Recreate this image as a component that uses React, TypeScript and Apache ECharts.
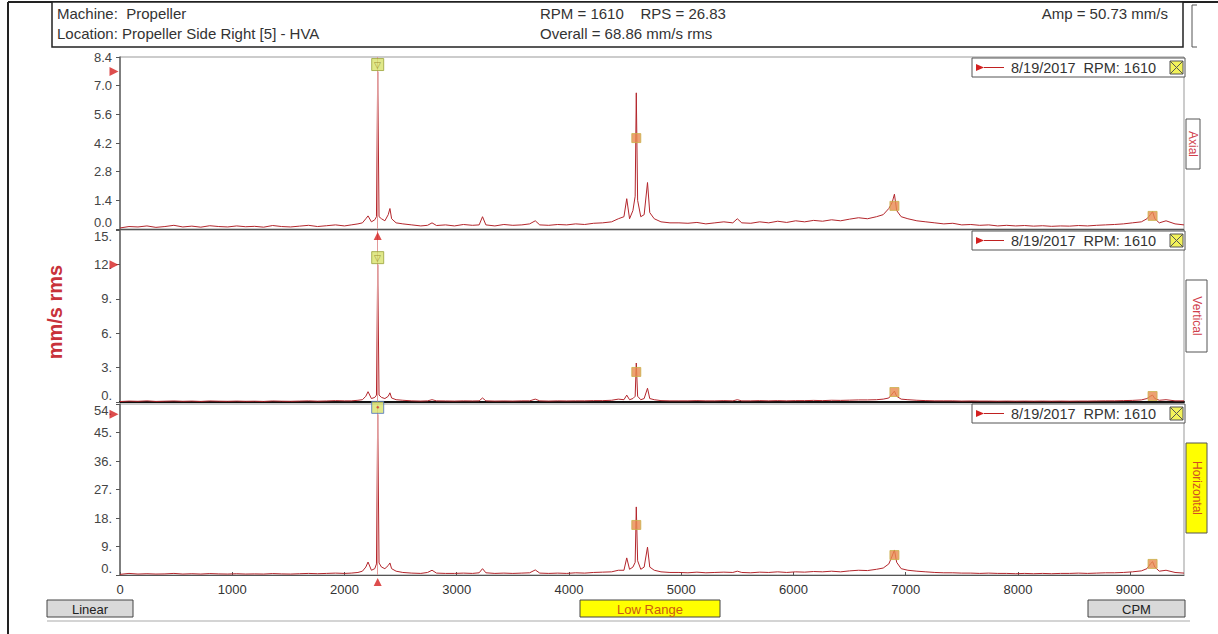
import React, { useEffect, useRef } from "react";
import * as echarts from "echarts";

// ---------- data ----------
const cpm = [
  0, 80, 160, 240, 320, 400, 480, 560, 640, 720, 800, 880, 960, 1040, 1120, 1200, 1280, 1360, 1440, 1520, 1600, 1680, 1760, 1840, 1920, 2000,
  2060, 2120, 2160, 2190, 2210, 2240, 2270, 2285, 2296, 2308, 2330, 2360, 2390, 2405, 2420, 2460, 2520,
  2600, 2680, 2740, 2780, 2820, 2900, 2980, 3060, 3140, 3200, 3230, 3260, 3340, 3420, 3500, 3580, 3650, 3700, 3740, 3820, 3900, 3980, 4060, 4140, 4220, 4300, 4380, 4440,
  4490, 4515, 4540, 4570, 4590, 4600, 4612, 4640, 4670, 4700, 4720, 4760, 4820, 4900,
  4980, 5060, 5140, 5220, 5300, 5380, 5460, 5500, 5540, 5620, 5700, 5780, 5860, 5940, 6020, 6100, 6180, 6260, 6340, 6420, 6500, 6580, 6660, 6740, 6800,
  6850, 6880, 6900, 6920, 6960, 7020,
  7100, 7180, 7260, 7340, 7420, 7500, 7580, 7660, 7740, 7820, 7900, 7980, 8060, 8140, 8220, 8300, 8380, 8460, 8540, 8620, 8700, 8780, 8860, 8940, 9020, 9100,
  9150, 9180, 9200, 9220, 9260, 9320, 9400, 9480,
];

const axial = [
  0.05, 0.12, 0.1, 0.15, 0.08, 0.12, 0.18, 0.1, 0.14, 0.09, 0.16, 0.12, 0.1, 0.15, 0.11, 0.13, 0.09, 0.17, 0.12, 0.1, 0.14, 0.18, 0.12, 0.16, 0.2, 0.15,
  0.2, 0.25, 0.3, 0.5, 0.64, 0.35, 0.45, 0.6, 7.69, 0.6, 0.5, 0.4, 0.7, 1.0, 0.5, 0.3, 0.25,
  0.2, 0.15, 0.18, 0.3, 0.17, 0.2, 0.15, 0.22, 0.18, 0.2, 0.6, 0.2, 0.15, 0.22, 0.18, 0.2, 0.25, 0.4, 0.2, 0.18, 0.22, 0.2, 0.25, 0.22, 0.28, 0.3, 0.35, 0.5,
  0.6, 1.48, 0.5, 0.9, 1.6, 6.65, 1.4, 0.6, 0.7, 2.27, 0.8, 0.5, 0.35, 0.3,
  0.3, 0.28, 0.32, 0.25, 0.3, 0.35, 0.3, 0.5, 0.3, 0.28, 0.35, 0.3, 0.38, 0.32, 0.4, 0.35, 0.42, 0.38, 0.45, 0.4, 0.48, 0.55, 0.5, 0.6, 0.7,
  1.0, 1.3, 1.7, 0.9, 0.6, 0.5,
  0.4, 0.35, 0.3, 0.25, 0.28, 0.2, 0.22, 0.18, 0.2, 0.15, 0.18, 0.15, 0.17, 0.14, 0.16, 0.13, 0.15, 0.14, 0.17, 0.15, 0.18, 0.2, 0.22, 0.25, 0.3, 0.35,
  0.5, 0.7, 0.85, 0.5, 0.3, 0.4, 0.25, 0.2,
];

const vertical = [
  0.04, 0.08, 0.06, 0.1, 0.05, 0.07, 0.09, 0.06, 0.08, 0.05, 0.09, 0.07, 0.06, 0.08, 0.06, 0.07, 0.05, 0.09, 0.07, 0.06, 0.08, 0.1, 0.07, 0.09, 0.12, 0.1,
  0.1, 0.15, 0.2, 0.5, 0.9, 0.3, 0.4, 0.6, 11.98, 0.6, 0.4, 0.3, 0.5, 0.8, 0.35, 0.2, 0.15,
  0.1, 0.08, 0.1, 0.2, 0.1, 0.09, 0.08, 0.1, 0.09, 0.1, 0.35, 0.1, 0.08, 0.09, 0.08, 0.1, 0.1, 0.25, 0.1, 0.08, 0.1, 0.09, 0.1, 0.1, 0.12, 0.12, 0.15, 0.25,
  0.2, 0.6, 0.2, 0.3, 0.5, 3.4, 0.5, 0.2, 0.3, 1.2, 0.3, 0.2, 0.12, 0.1,
  0.1, 0.1, 0.12, 0.1, 0.1, 0.12, 0.1, 0.2, 0.1, 0.1, 0.12, 0.1, 0.12, 0.1, 0.12, 0.12, 0.14, 0.12, 0.15, 0.14, 0.16, 0.18, 0.18, 0.2, 0.25,
  0.35, 0.7, 0.95, 0.5, 0.25, 0.2,
  0.15, 0.12, 0.1, 0.1, 0.1, 0.08, 0.09, 0.08, 0.08, 0.07, 0.08, 0.07, 0.08, 0.07, 0.08, 0.07, 0.08, 0.07, 0.08, 0.08, 0.09, 0.1, 0.1, 0.12, 0.14, 0.18,
  0.3, 0.5, 0.6, 0.3, 0.15, 0.2, 0.1, 0.1,
];

const horizontal = [
  0.2, 0.5, 0.3, 0.4, 0.3, 0.35, 0.5, 0.3, 0.4, 0.3, 0.45, 0.35, 0.3, 0.4, 0.3, 0.35, 0.3, 0.45, 0.35, 0.3, 0.4, 0.5, 0.4, 0.5, 0.6, 0.5,
  0.6, 0.8, 1.2, 2.5, 4.1, 1.5, 2.0, 3.5, 50.73, 3.8, 2.5, 2.0, 3.0, 3.8, 2.0, 1.2, 0.8,
  0.6, 0.5, 0.8, 1.5, 0.6, 0.5, 0.5, 0.6, 0.5, 0.7, 2.0, 0.7, 0.5, 0.6, 0.5, 0.6, 0.7, 1.6, 0.6, 0.5, 0.6, 0.5, 0.7, 0.6, 0.8, 0.9, 1.0, 1.5,
  1.5, 5.4, 1.8, 2.5, 4.0, 21.5, 4.5, 1.8, 2.5, 8.8, 2.5, 1.5, 1.0, 0.8,
  0.8, 0.7, 0.9, 0.7, 0.8, 0.9, 0.8, 1.2, 0.8, 0.7, 0.9, 0.8, 1.0, 0.8, 1.0, 0.9, 1.1, 1.0, 1.2, 1.0, 1.3, 1.5, 1.4, 1.8, 2.2,
  3.5, 6.0, 7.9, 4.0, 2.0, 1.5,
  1.2, 1.0, 0.8, 0.7, 0.7, 0.6, 0.6, 0.5, 0.6, 0.5, 0.5, 0.4, 0.5, 0.4, 0.5, 0.4, 0.5, 0.5, 0.6, 0.5, 0.6, 0.7, 0.7, 0.8, 1.0, 1.3,
  2.0, 3.5, 4.2, 2.5, 1.2, 1.5, 0.8, 0.6,
];

const harmonicCpm = [4600, 6900, 9200];
const axialMarks = [4.44, 1.13, 0.64];
const verticalMarks = [2.62, 0.87, 0.52];
const horizontalMarks = [15.8, 6.3, 3.5];

const cursorCpm = 2296;
const cursorAmps = [7.69, 11.98, 50.73];

const panelNames = ["Axial", "Vertical", "Horizontal"];
const yMax = [8.4, 15, 54];
const yInterval = [1.4, 3, 9];
const xMax = 9480;
const xInterval = 1000;

const legendText = "8/19/2017  RPM: 1610";
const headerLeft = ["Machine:  Propeller", "Location: Propeller Side Right [5] - HVA"];
const headerMid = ["RPM = 1610    RPS = 26.83", "Overall = 68.86 mm/s rms"];
const headerRight = "Amp = 50.73 mm/s";
const yTitle = "mm/s rms";
const buttons = ["Linear", "Low Range", "CPM"];

// ---------- layout ----------
const FONT = "'Liberation Sans', Arial, Helvetica, sans-serif";
const grids = [
  { left: 120, top: 57, width: 1064, height: 172 },
  { left: 120, top: 230, width: 1064, height: 172 },
  { left: 120, top: 404, width: 1064, height: 171 },
];
const legendTops = [58, 231, 404];
const sideBoxes = [
  { x: 1186, y: 119, w: 14, h: 50, fill: "#ffffff", color: "#d0404c" },
  { x: 1186, y: 280, w: 21, h: 72, fill: "#ffffff", color: "#d0404c" },
  { x: 1186, y: 443, w: 21, h: 90, fill: "#ffff00", color: "#d05020" },
];
const buttonBoxes = [
  { x: 47, y: 600, w: 86, h: 17, fill: "#d9d9d9", color: "#222" },
  { x: 580, y: 600, w: 140, h: 17, fill: "#ffff00", color: "#cc5a10" },
  { x: 1088, y: 600, w: 97, h: 17, fill: "#d9d9d9", color: "#222" },
];

function buildOption() {
  const traces = [axial, vertical, horizontal];
  const marks = [axialMarks, verticalMarks, horizontalMarks];

  const xAxis = grids.map((_, i) => ({
    type: "value",
    gridIndex: i,
    min: 0,
    max: xMax,
    interval: xInterval,
    axisLine: { show: true, onZero: false, lineStyle: { color: i === 1 ? "#111" : "#555", width: i === 1 ? 2 : 1 } },
    axisTick: { show: i === 2, inside: true, length: 3, lineStyle: { color: "#555" } },
    axisLabel: {
      show: i === 2,
      showMaxLabel: false,
      color: "#333",
      fontSize: 13,
      fontFamily: FONT,
      margin: 8,
      formatter: (v: number) => String(v),
    },
    splitLine: { show: false },
  }));

  const yAxis = grids.map((_, i) => ({
    type: "value",
    gridIndex: i,
    min: 0,
    max: yMax[i],
    interval: yInterval[i],
    axisLine: { show: true, lineStyle: { color: "#666", width: 1.5 } },
    axisTick: { show: true, length: 4, lineStyle: { color: "#555" } },
    axisLabel: {
      color: "#444",
      fontSize: 13,
      fontFamily: FONT,
      margin: 8,
      verticalAlignMaxLabel: i === 0 ? "middle" : "top",
      verticalAlignMinLabel: "bottom",
      formatter: (v: number) => (i === 0 ? v.toFixed(1) : `${Math.round(v)}.`),
    },
    splitLine: { show: false },
  }));

  const series: any[] = [];
  grids.forEach((_, i) => {
    series.push({
      type: "line",
      name: panelNames[i],
      xAxisIndex: i,
      yAxisIndex: i,
      data: cpm.map((x, k) => [x, traces[i][k]]),
      showSymbol: false,
      symbol: "none",
      lineStyle: { color: "#b3262c", width: 1 },
      z: 3,
      markLine: {
        silent: true,
        symbol: "none",
        label: { show: false },
        lineStyle: { color: "#e29a9a", width: 1, type: "solid" },
        data: [{ xAxis: cursorCpm }],
      },
    });
    series.push({
      type: "scatter",
      xAxisIndex: i,
      yAxisIndex: i,
      data: harmonicCpm.map((x, k) => [x, marks[i][k]]),
      symbol: "rect",
      symbolSize: 9,
      itemStyle: { color: "#e8894f", borderColor: "#c9b24a", borderWidth: 1 },
      z: 5,
    });
    series.push({
      type: "scatter",
      xAxisIndex: i,
      yAxisIndex: i,
      data: [[cursorCpm, cursorAmps[i]]],
      symbol: "rect",
      symbolSize: 12,
      symbolOffset: [0, -7],
      clip: false,
      itemStyle: { color: "#d8e26c", borderColor: i === 2 ? "#4a6fc0" : "#9aa23a", borderWidth: 1 },
      label: {
        show: true,
        position: "inside",
        formatter: i === 2 ? "●" : "▽",
        color: i === 2 ? "#d03030" : "#8a7a20",
        fontSize: i === 2 ? 6 : 9,
      },
      z: 6,
    });
    series.push({
      type: "scatter",
      xAxisIndex: i,
      yAxisIndex: i,
      data: [[0, cursorAmps[i]]],
      symbol: "triangle",
      symbolRotate: -90,
      symbolSize: [9, 9],
      symbolOffset: [-6, 0],
      clip: false,
      itemStyle: { color: "#d42020" },
      z: 7,
    });
    if (i !== 1) {
      series.push({
        type: "scatter",
        xAxisIndex: i,
        yAxisIndex: i,
        data: [[cursorCpm, 0]],
        symbol: "triangle",
        symbolSize: [8, 8],
        symbolOffset: [0, 7],
        clip: false,
        itemStyle: { color: "#d42020" },
        z: 7,
      });
    }
  });

  const txt = (x: number, y: number, text: string, extra: any = {}) => ({
    type: "text",
    x,
    y,
    z: 100,
    style: {
      text,
      fill: extra.fill || "#333",
      font: extra.font || `15px ${FONT}`,
      align: extra.align || "left",
      textAlign: extra.align || "left",
      verticalAlign: "middle",
      textVerticalAlign: "middle",
    },
    rotation: extra.rotation || 0,
  });

  const graphic: any[] = [];
  // outer frame
  graphic.push({ type: "line", z: 90, shape: { x1: 8, y1: 2, x2: 8, y2: 634 }, style: { stroke: "#222", lineWidth: 2 } });
  graphic.push({ type: "line", z: 90, shape: { x1: 8, y1: 2, x2: 1218, y2: 2 }, style: { stroke: "#222", lineWidth: 2 } });
  graphic.push({ type: "polyline", z: 90, shape: { points: [[1197, 5], [1192, 5], [1192, 47], [1197, 47]] }, style: { stroke: "#555", lineWidth: 1, fill: null } });
  // header
  graphic.push({ type: "rect", z: 90, shape: { x: 52, y: 2, width: 1131, height: 45 }, style: { fill: "#fff", stroke: "#222", lineWidth: 1.5 } });
  graphic.push(txt(57, 13, headerLeft[0]));
  graphic.push(txt(57, 33, headerLeft[1]));
  graphic.push(txt(540, 13, headerMid[0]));
  graphic.push(txt(540, 33, headerMid[1]));
  graphic.push(txt(1168, 13, headerRight, { align: "right" }));
  // bottom line
  graphic.push({ type: "line", z: 80, shape: { x1: 47, y1: 621, x2: 1190, y2: 621 }, style: { stroke: "#d4d4d4", lineWidth: 2 } });
  // y title
  graphic.push(txt(55, 312, yTitle, { align: "center", rotation: Math.PI / 2, fill: "#c8323a", font: `bold 20px ${FONT}` }));
  // legend boxes
  legendTops.forEach((t) => {
    graphic.push({ type: "rect", z: 95, shape: { x: 972, y: t, width: 213, height: 19 }, style: { fill: "#fff", stroke: "#555", lineWidth: 1 } });
    graphic.push({ type: "polygon", z: 96, shape: { points: [[976, t + 6], [984, t + 9.5], [976, t + 13]] }, style: { fill: "#d42020" } });
    graphic.push({ type: "line", z: 96, shape: { x1: 984, y1: t + 9.5, x2: 1004, y2: t + 9.5 }, style: { stroke: "#c02020", lineWidth: 1 } });
    graphic.push(txt(1011, t + 10, legendText, { font: `14.5px ${FONT}` }));
    graphic.push({ type: "rect", z: 96, shape: { x: 1170, y: t + 3, width: 13, height: 13 }, style: { fill: "#f2f25a", stroke: "#555", lineWidth: 1 } });
    graphic.push({ type: "line", z: 97, shape: { x1: 1170, y1: t + 3, x2: 1183, y2: t + 16 }, style: { stroke: "#555", lineWidth: 1 } });
    graphic.push({ type: "line", z: 97, shape: { x1: 1183, y1: t + 3, x2: 1170, y2: t + 16 }, style: { stroke: "#555", lineWidth: 1 } });
  });
  // side labels
  sideBoxes.forEach((b, i) => {
    graphic.push({ type: "rect", z: 95, shape: { x: b.x, y: b.y, width: b.w, height: b.h }, style: { fill: b.fill, stroke: "#555", lineWidth: 1 } });
    graphic.push(txt(b.x + b.w / 2, b.y + b.h / 2, panelNames[i], { align: "center", rotation: -Math.PI / 2, fill: b.color, font: `12px ${FONT}` }));
  });
  // buttons
  buttonBoxes.forEach((b, i) => {
    graphic.push({ type: "rect", z: 95, shape: { x: b.x, y: b.y, width: b.w, height: b.h }, style: { fill: b.fill, stroke: "#444", lineWidth: 1 } });
    graphic.push(txt(b.x + b.w / 2, b.y + b.h / 2 + 1, buttons[i], { align: "center", fill: b.color, font: `13px ${FONT}` }));
  });

  return {
    animation: false,
    backgroundColor: "#ffffff",
    textStyle: { fontFamily: FONT },
    grid: grids.map((g) => ({ ...g, show: true, borderColor: "#999", borderWidth: 1, backgroundColor: "transparent" })),
    xAxis,
    yAxis,
    series,
    graphic,
  };
}

export default function App() {
  const ref = useRef<HTMLDivElement>(null);
  useEffect(() => {
    if (!ref.current) return;
    const chart = echarts.init(ref.current, null, { renderer: "svg" });
    chart.setOption(buildOption() as any);
    return () => chart.dispose();
  }, []);
  return (
    <div
      ref={ref}
      style={{ position: "fixed", left: 0, top: 0, width: 1218, height: 634, background: "#fff" }}
    />
  );
}
